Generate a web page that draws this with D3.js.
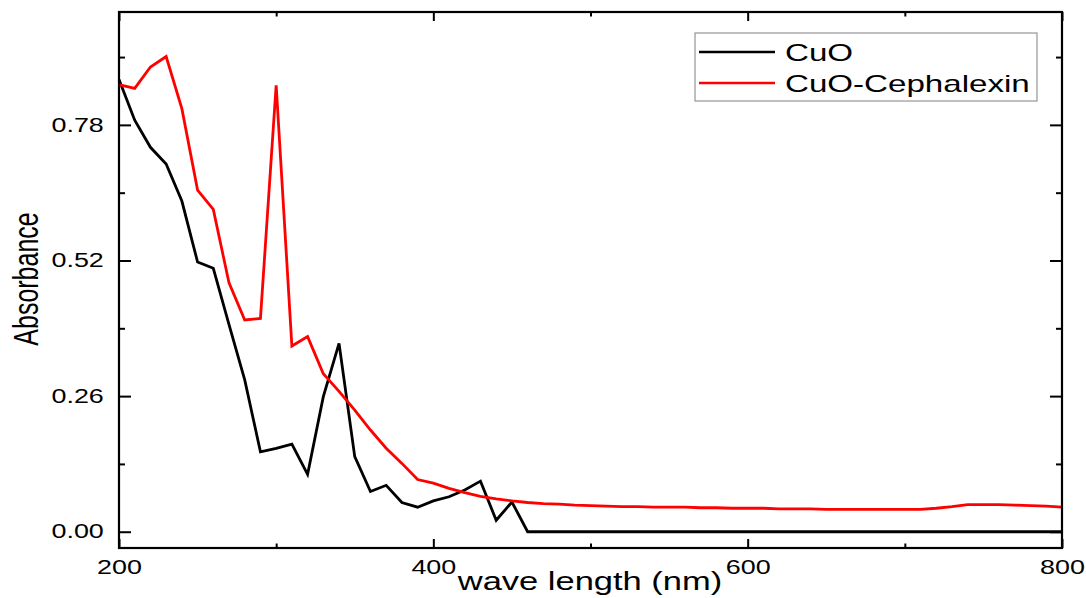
<!DOCTYPE html>
<html>
<head>
<meta charset="utf-8">
<script src="https://cdn.jsdelivr.net/npm/d3@7"></script>
<style>
  html, body { margin: 0; padding: 0; background: #fff; }
  text { font-family: "Liberation Sans", Arial, sans-serif; fill: #000; }
</style>
</head>
<body>
<svg id="chart"></svg>
<script>
// wavelength grid (nm)
const wavelengths = [200, 210, 220, 230, 240, 250, 260, 270, 280, 290,
    300, 310, 320, 330, 340, 350, 360, 370, 380, 390,
    400, 410, 420, 430, 440, 450, 460, 470, 480, 490,
    500, 510, 520, 530, 540, 550, 560, 570, 580, 590,
    600, 610, 620, 630, 640, 650, 660, 670, 680, 690,
    700, 710, 720, 730, 740, 750, 760, 770, 780, 790, 800];

const cuo = [0.867, 0.789, 0.737, 0.705, 0.634, 0.517, 0.505, 0.397, 0.291, 0.153,
    0.160, 0.168, 0.110, 0.259, 0.361, 0.144, 0.077, 0.089, 0.056, 0.047,
    0.059, 0.067, 0.080, 0.097, 0.022, 0.057, 0, 0, 0, 0,
    0, 0, 0, 0, 0, 0, 0, 0, 0, 0,
    0, 0, 0, 0, 0, 0, 0, 0, 0, 0,
    0, 0, 0, 0, 0, 0, 0, 0, 0, 0, 0];

const cuoCephalexin = [0.857, 0.850, 0.891, 0.911, 0.811, 0.655, 0.618, 0.477, 0.406, 0.409,
    0.856, 0.356, 0.374, 0.303, 0.269, 0.233, 0.195, 0.160, 0.131, 0.100,
    0.093, 0.083, 0.075, 0.068, 0.063, 0.059, 0.056, 0.054, 0.053, 0.051,
    0.050, 0.049, 0.048, 0.048, 0.047, 0.047, 0.047, 0.046, 0.046, 0.045,
    0.045, 0.045, 0.044, 0.044, 0.044, 0.043, 0.043, 0.043, 0.043, 0.043,
    0.043, 0.043, 0.045, 0.048, 0.052, 0.052, 0.052, 0.051, 0.050, 0.049, 0.047];

const seriesNames = ["CuO", "CuO-Cephalexin"];
const seriesColors = ["#000000", "#ff0000"];

const xMajor = [200, 400, 600, 800];
const xMinor = [300, 500, 700];
const yMajor = [0, 0.26, 0.52, 0.78];
const yMinor = [0.13, 0.39, 0.65, 0.91];

const width = 1086, height = 598;
const plotLeft = 119, plotRight = 1062, plotTop = 12, plotBottom = 548;
const SX = 1.38; // the original picture is stretched sideways

const svg = d3.select("#chart").attr("width", width).attr("height", height);

const x = d3.scaleLinear().domain([200, 800]).range([plotLeft, plotRight]);
const y = d3.scaleLinear().domain([-0.0312, 0.9964]).range([plotBottom, plotTop]);

// lines
const series = [cuo, cuoCephalexin];
const line = d3.line()
    .x((d, i) => x(wavelengths[i]))
    .y(d => y(d));

series.forEach((vals, k) => {
    svg.append("path")
        .datum(vals)
        .attr("d", line)
        .attr("fill", "none")
        .attr("stroke", seriesColors[k])
        .attr("stroke-width", 2.8)
        .attr("stroke-linejoin", "miter");
});

// axes, ticks pointing inward on all four sides
function styleAxis(g) {
    g.select(".domain").remove();
    g.selectAll(".tick line").attr("stroke", "#000").attr("stroke-width", 2);
}

svg.append("g").attr("transform", `translate(0,${plotBottom})`)
    .call(d3.axisBottom(x).tickValues(xMajor).tickSize(-9).tickPadding(12).tickFormat(d3.format("d")))
    .call(styleAxis)
    .call(g => g.selectAll("text").attr("font-size", 19.5).attr("transform", `scale(${SX},1)`));
svg.append("g").attr("transform", `translate(0,${plotBottom})`)
    .call(d3.axisBottom(x).tickValues(xMinor).tickSize(-4.5).tickFormat(""))
    .call(styleAxis);
svg.append("g").attr("transform", `translate(0,${plotTop})`)
    .call(d3.axisTop(x).tickValues(xMajor).tickSize(-9).tickFormat(""))
    .call(styleAxis);
svg.append("g").attr("transform", `translate(0,${plotTop})`)
    .call(d3.axisTop(x).tickValues(xMinor).tickSize(-4.5).tickFormat(""))
    .call(styleAxis);

svg.append("g").attr("transform", `translate(${plotLeft},0)`)
    .call(d3.axisLeft(y).tickValues(yMajor).tickSize(-12).tickPadding(11).tickFormat(d3.format(".2f")))
    .call(styleAxis)
    .call(g => g.selectAll("text").attr("font-size", 19.5).attr("transform", `scale(${SX},1)`));
svg.append("g").attr("transform", `translate(${plotLeft},0)`)
    .call(d3.axisLeft(y).tickValues(yMinor).tickSize(-6).tickFormat(""))
    .call(styleAxis);
svg.append("g").attr("transform", `translate(${plotRight},0)`)
    .call(d3.axisRight(y).tickValues(yMajor).tickSize(-12).tickFormat(""))
    .call(styleAxis);
svg.append("g").attr("transform", `translate(${plotRight},0)`)
    .call(d3.axisRight(y).tickValues(yMinor).tickSize(-6).tickFormat(""))
    .call(styleAxis);

// frame
svg.append("rect")
    .attr("x", plotLeft).attr("y", plotTop)
    .attr("width", plotRight - plotLeft).attr("height", plotBottom - plotTop)
    .attr("fill", "none").attr("stroke", "#000").attr("stroke-width", 2.2);

// axis titles
svg.append("g").attr("transform", "translate(590,590)")
    .append("text")
    .attr("transform", `scale(${SX},1)`)
    .attr("text-anchor", "middle")
    .attr("font-size", 25)
    .text("wave length (nm)");

svg.append("g").attr("transform", `translate(38,279) scale(${SX},1) rotate(-90)`)
    .append("text")
    .attr("text-anchor", "middle")
    .attr("font-size", 25)
    .text("Absorbance");

// legend
const legend = svg.append("g").attr("transform", "translate(695,33)");
legend.append("rect")
    .attr("width", 342).attr("height", 68)
    .attr("fill", "#fff").attr("stroke", "#808080").attr("stroke-width", 1);
seriesNames.forEach((name, k) => {
    const ly = 19 + k * 31;
    legend.append("line")
        .attr("x1", 4).attr("x2", 80).attr("y1", ly).attr("y2", ly)
        .attr("stroke", seriesColors[k]).attr("stroke-width", 2.6);
    legend.append("g").attr("transform", `translate(90,${ly + 8.5})`)
        .append("text")
        .attr("transform", `scale(${SX},1)`)
        .attr("font-size", 24)
        .text(name);
});
</script>
</body>
</html>
